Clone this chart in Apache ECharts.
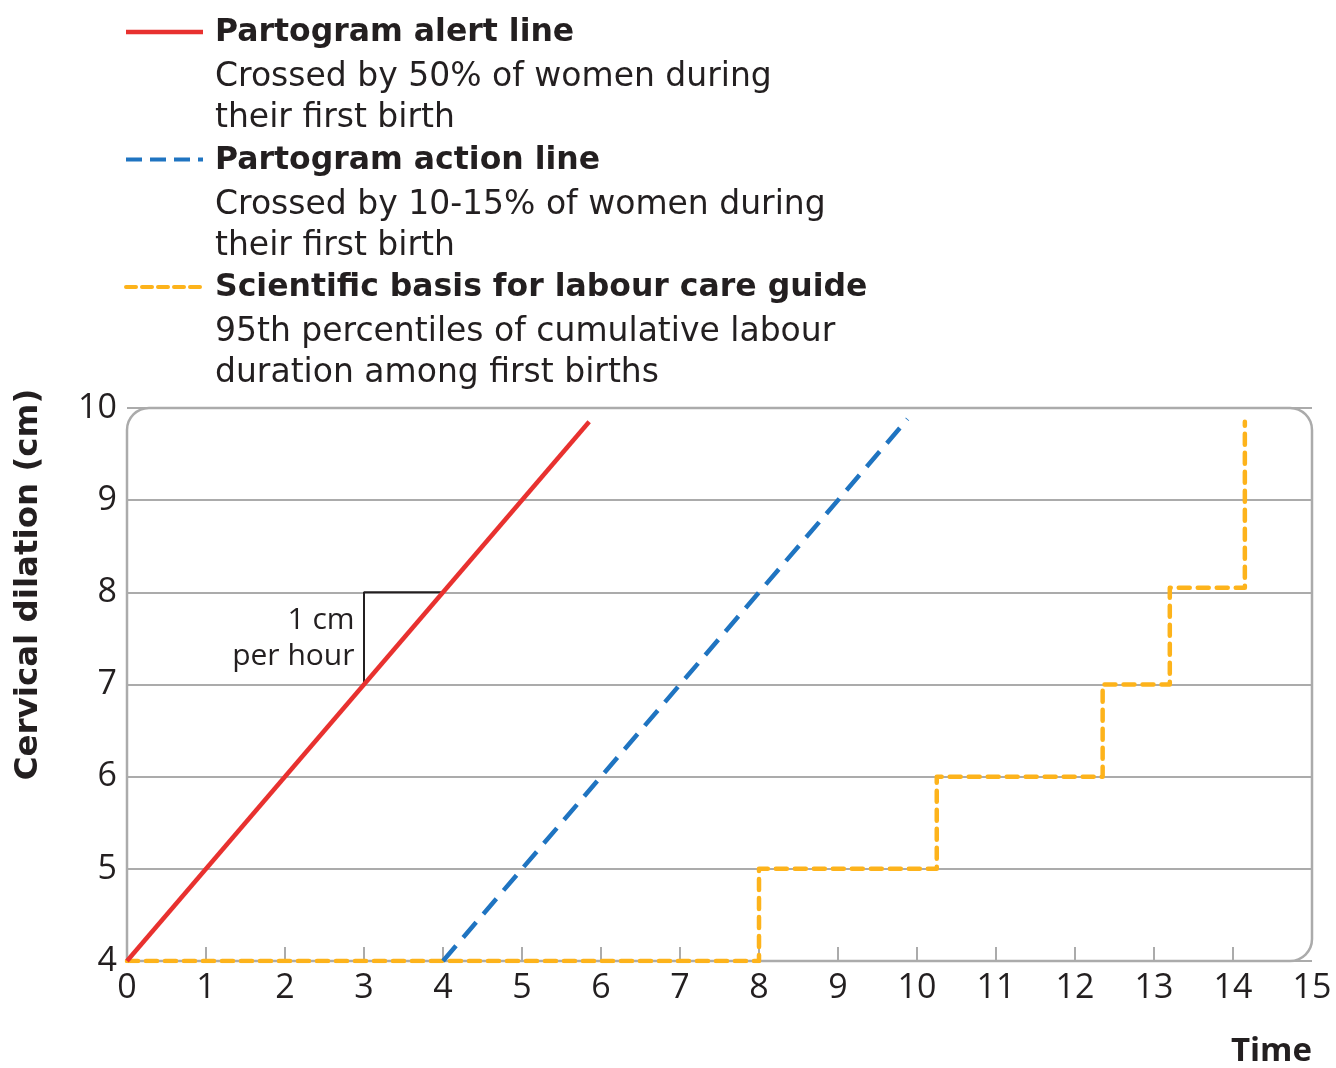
<!DOCTYPE html>
<html>
<head>
<meta charset="utf-8">
<script src="https://cdn.jsdelivr.net/npm/echarts@6/dist/echarts.min.js"></script>
<style>
  html, body { margin: 0; padding: 0; background: #fff; }
  #chart { width: 1336px; height: 1068px; }
</style>
</head>
<body>
<div id="chart"></div>
<script>
// data
var alertLine = [[0, 4], [5.85, 9.85]];
var actionLine = [[4, 4], [9.88, 9.88]];
var lcgSteps = [[0, 4], [8, 4], [8, 5], [10.25, 5], [10.25, 6], [12.35, 6], [12.35, 7],
                [13.2, 7], [13.2, 8.05], [14.15, 8.05], [14.15, 9.85]];
var slopeMark = [[3, 7], [3, 8], [4, 8]];
var legendTitles = ['Partogram alert line', 'Partogram action line', 'Scientific basis for labour care guide'];
var legendNotes = [
    ['Crossed by 50% of women during', 'their first birth'],
    ['Crossed by 10-15% of women during', 'their first birth'],
    ['95th percentiles of cumulative labour', 'duration among first births']
];

var RED = '#e8312f', BLUE = '#1f74c1', ORANGE = '#fdb31b', GREY = '#ababab', INK = '#231f20';
var FONT = '"Open Sans", sans-serif';
var WIDE = '"DejaVu Sans", sans-serif';

var myChart = echarts.init(document.getElementById('chart'));

option = {
    animation: false,
    grid: { left: 127, right: 24, top: 408, bottom: 105 },
    xAxis: {
        type: 'value', min: 0, max: 15, interval: 1,
        axisLine: { show: false },
        axisTick: { show: true, inside: true, length: 14, customValues: [1,2,3,4,5,6,7,8,9,10,11,12,13,14],
                    lineStyle: { color: GREY, width: 2 } },
        splitLine: { show: false },
        axisLabel: { color: INK, fontSize: 34, fontFamily: FONT, margin: 10 },
        name: 'Time', nameLocation: 'end', nameGap: 0,
        nameTextStyle: { color: INK, fontSize: 33, fontWeight: 'bold', fontFamily: FONT,
                         align: 'right', verticalAlign: 'top', padding: [74, 0, 0, 0] }
    },
    yAxis: {
        type: 'value', min: 4, max: 10, interval: 1,
        axisLine: { show: false },
        axisTick: { show: false },
        splitLine: { show: true, lineStyle: { color: GREY, width: 2 } },
        axisLabel: { color: INK, fontSize: 34, fontFamily: FONT, margin: 10 },
        name: 'Cervical dilation (cm)', nameLocation: 'middle', nameGap: 82, nameRotate: 90,
        nameTextStyle: { color: INK, fontSize: 32.5, fontWeight: 'bold', fontFamily: WIDE,
                         padding: [0, 0, 0, 200] }
    },
    series: [
        {
            name: legendTitles[2], type: 'line', data: lcgSteps, showSymbol: false, z: 3,
            lineStyle: { color: ORANGE, width: 4.5, type: [11, 8], cap: 'round', join: 'round' }
        },
        {
            name: legendTitles[1], type: 'line', data: actionLine, showSymbol: false, z: 4,
            lineStyle: { color: BLUE, width: 4.5, type: [20, 11] }
        },
        {
            name: 'slope', type: 'line', data: slopeMark, showSymbol: false, z: 2,
            lineStyle: { color: INK, width: 2 }
        },
        {
            name: legendTitles[0], type: 'line', data: alertLine, showSymbol: false, z: 5,
            lineStyle: { color: RED, width: 4.5 }
        }
    ]
};

myChart.setOption(option);

// frame with rounded corners, legend block and slope note
var p0 = myChart.convertToPixel({ gridIndex: 0 }, [0, 10]);
var p1 = myChart.convertToPixel({ gridIndex: 0 }, [15, 4]);
var note = myChart.convertToPixel({ gridIndex: 0 }, [2.88, 7.5]);

var graphics = [{
    type: 'rect', z: 1, silent: true,
    shape: { x: p0[0], y: p0[1], width: p1[0] - p0[0], height: p1[1] - p0[1], r: [22, 22, 22, 0] },
    style: { fill: null, stroke: GREY, lineWidth: 2.5 }
}, {
    type: 'text', z: 6, silent: true,
    x: note[0], y: note[1],
    style: { text: '1 cm\nper hour', fill: INK, font: '30px ' + FONT, align: 'right',
             verticalAlign: 'middle', lineHeight: 36 }
}];

var lineStyles = [
    { stroke: RED, lineWidth: 4.5 },
    { stroke: BLUE, lineWidth: 4, lineDash: [16, 8] },
    { stroke: ORANGE, lineWidth: 4, lineDash: [10, 6], lineCap: 'round' }
];
for (var i = 0; i < 3; i++) {
    var cy = 32 + i * 127.5;
    graphics.push({
        type: 'line', silent: true,
        shape: { x1: 126, y1: cy, x2: 203, y2: cy },
        style: lineStyles[i]
    });
    graphics.push({
        type: 'text', silent: true, x: 215, y: cy + 1,
        style: { text: legendTitles[i], fill: INK, font: 'bold 31.5px ' + WIDE, verticalAlign: 'middle' }
    });
    graphics.push({
        type: 'text', silent: true, x: 215, y: cy + 25,
        style: { text: legendNotes[i].join('\n'), fill: INK, font: '33px ' + WIDE,
                 verticalAlign: 'top', lineHeight: 41 }
    });
}
myChart.setOption({ graphic: graphics });
</script>
</body>
</html>
